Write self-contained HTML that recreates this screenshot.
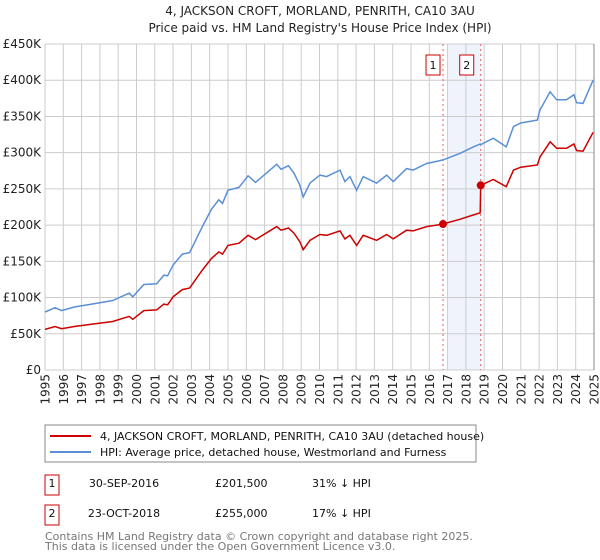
<!DOCTYPE html>
<html><head><meta charset="utf-8"><style>
body{margin:0;background:#fff;}
svg{display:block;font-family:"DejaVu Sans","Liberation Sans",sans-serif;}
</style></head><body>
<svg id="c" width="600" height="560" viewBox="0 0 600 560">
<text x="320" y="15" text-anchor="middle" font-size="12" fill="#222">4, JACKSON CROFT, MORLAND, PENRITH, CA10 3AU</text>
<text x="320" y="32" text-anchor="middle" font-size="12" fill="#222">Price paid vs. HM Land Registry's House Price Index (HPI)</text>
<g id="grid"></g><g id="series"></g><g id="axes"></g>
<rect x="45" y="425" width="431" height="37" fill="none" stroke="#888"/>
<line x1="50" y1="436" x2="91" y2="436" stroke="#cc0000" stroke-width="2"/>
<text x="100" y="440" font-size="11" fill="#111">4, JACKSON CROFT, MORLAND, PENRITH, CA10 3AU (detached house)</text>
<line x1="50" y1="452" x2="91" y2="452" stroke="#5b8fd4" stroke-width="2"/>
<text x="100" y="456" font-size="11" fill="#111">HPI: Average price, detached house, Westmorland and Furness</text>
<g font-size="11" fill="#111">
<rect x="45" y="475" width="14" height="20" fill="#fff" stroke="#cc0000"/>
<text x="52" y="487" text-anchor="middle">1</text>
<text x="124" y="487" text-anchor="middle">30-SEP-2016</text>
<text x="215" y="487">£201,500</text>
<text x="312" y="487">31% ↓ HPI</text></g>
<g font-size="11" fill="#111">
<rect x="45" y="505" width="14" height="20" fill="#fff" stroke="#cc0000"/>
<text x="52" y="517" text-anchor="middle">2</text>
<text x="124" y="517" text-anchor="middle">23-OCT-2018</text>
<text x="215" y="517">£255,000</text>
<text x="312" y="517">17% ↓ HPI</text></g>
<text x="45" y="540" font-size="11" fill="#777">Contains HM Land Registry data © Crown copyright and database right 2025.</text>
<text x="45" y="550" font-size="11" fill="#777">This data is licensed under the Open Government Licence v3.0.</text>
</svg>
<script>
const dates=[1995.0,1995.55,1995.9,1996.6,1997.8,1998.7,1999.6,1999.8,2000.4,2001.1,2001.5,2001.7,2002.0,2002.5,2002.9,2003.6,2004.1,2004.5,2004.7,2005.0,2005.6,2006.1,2006.5,2007.66,2007.9,2008.3,2008.6,2008.93,2009.11,2009.48,2010.02,2010.39,2011.12,2011.39,2011.66,2012.03,2012.39,2013.12,2013.67,2014.03,2014.76,2015.12,2015.85,2016.4,2016.75,2017.67,2018.4,2018.78,2018.81,2019.5,2020.2,2020.6,2021.0,2021.9,2022.05,2022.6,2022.96,2023.5,2023.9,2024.05,2024.4,2024.95];
const hpiValues=[80,86,82,87,92,96,106,101,118,119,131,130,145,160,162,198,222,235,230,248,252,268,259,284,277,282,272,255,239,258,269,267,276,260,267,248,267,258,269,260,278,276,285,288,290,299,308,312,311,320,308,336,341,345,359,384,373,373,380,369,368,400];
const propValues=[56,60,57,60,64,67,74,70,82,83,91,90,101,111,113,138,154,163,160,172,175,186,180,198,193,196,189,177,166,179,187,186,192,181,186,172,186,179,187,181,193,192,198,200,201.5,208,214,217,255,263,253,276,280,283,294,315,306,306,312,303,302,328];
const saleDates=[2016.75,2018.81];
const saleValues=[201.5,255];
const saleLabels=["1","2"];
const yTicks=[0,50,100,150,200,250,300,350,400,450];
const yTickLabels=["£0","£50K","£100K","£150K","£200K","£250K","£300K","£350K","£400K","£450K"];
const xTicks=[1995,1996,1997,1998,1999,2000,2001,2002,2003,2004,2005,2006,2007,2008,2009,2010,2011,2012,2013,2014,2015,2016,2017,2018,2019,2020,2021,2022,2023,2024,2025];
const X0=45,X1=594,Y0=370,Y1=44;
const xs=v=>X0+(v-1995)/30*(X1-X0);
const ys=v=>Y0-v/450*(Y0-Y1);
const NS="http://www.w3.org/2000/svg";
function mk(tag,attrs,parent,txt){const e=document.createElementNS(NS,tag);for(const k in attrs)e.setAttribute(k,attrs[k]);if(txt!==undefined)e.textContent=txt;parent.appendChild(e);return e;}
const grid=document.getElementById('grid'),ser=document.getElementById('series'),ax=document.getElementById('axes');
const shade=mk('rect',{x:xs(2017.05),y:Y1,width:xs(saleDates[1])-xs(2017.05),height:Y0-Y1,fill:'#eef3fc'},grid);


yTicks.forEach((t,i)=>{
 const l=mk('line',{x1:X0,x2:X1,y1:ys(t),y2:ys(t),stroke:'#cccccc'},grid);
 
 
 const tx=mk('text',{x:41,y:ys(t)+4,'text-anchor':'end','font-size':'12',fill:'#222'},ax,yTickLabels[i]);
 
 
});
xTicks.forEach(t=>{
 const l=mk('line',{x1:xs(t),x2:xs(t),y1:Y1,y2:Y0,stroke:'#cccccc'},grid);
 
 
 const px=xs(t)+4.5;
 const tx=mk('text',{x:px,y:374,'text-anchor':'end','font-size':'12',fill:'#222',transform:'rotate(-90 '+px+' 374)'},ax,String(t));
 
 
});
const edge=mk('line',{x1:X1,x2:X1,y1:Y1,y2:Y0,stroke:'#888'},grid);


saleDates.forEach((d,i)=>{
 const l=mk('line',{x1:xs(d),x2:xs(d),y1:Y1,y2:Y0,stroke:'#e06060','stroke-dasharray':'2,3'},grid);
 
 
 const b=mk('rect',{x:xs(d)-15+(i?-6:-2),y:55,width:14,height:20,fill:'#fff',stroke:'#cc0000'},ax);
 
 
 const t=mk('text',{x:xs(d)-8+(i?-6:-2),y:69,'text-anchor':'middle','font-size':'11',fill:'#111'},ax,saleLabels[i]);
 
 
});
const pts=a=>a.map((v,i)=>xs(dates[i]).toFixed(1)+','+ys(v).toFixed(1)).join(' ');
const hp=mk('polyline',{points:pts(hpiValues),fill:'none',stroke:'#5b8fd4','stroke-width':'1.5'},ser);


const pp=mk('polyline',{points:pts(propValues),fill:'none',stroke:'#cc0000','stroke-width':'1.5'},ser);


saleDates.forEach((d,i)=>{
 const c=mk('circle',{cx:xs(d),cy:ys(saleValues[i]),r:4,fill:'#cc0000'},ser);
 
 
});
</script>
</body></html>
